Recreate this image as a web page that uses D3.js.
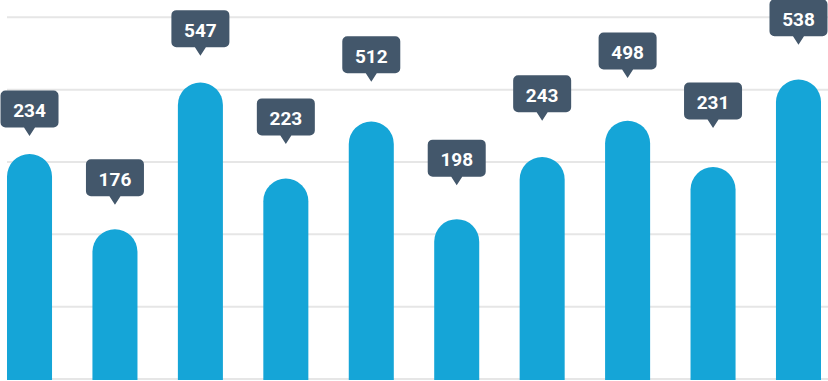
<!DOCTYPE html>
<html>
<head>
<meta charset="utf-8">
<script src="https://cdn.jsdelivr.net/npm/d3@7"></script>
<style>
  html, body { margin: 0; padding: 0; background: #ffffff; }
  svg { display: block; }
</style>
</head>
<body>
<script>
// ---- Data ----
const categories = ["1", "2", "3", "4", "5", "6", "7", "8", "9", "10"];
const labelValues = [234, 176, 547, 223, 512, 198, 243, 498, 231, 538];
const barLevels = [311, 207, 410, 277, 356, 221, 307, 357, 293, 414];
const markerLevels = [336, 241, 447, 325, 411, 268, 357, 416, 347, 462];
const gridTicks = [0, 100, 200, 300, 400, 500];

// ---- Layout ----
const W = 828, H = 381;
const svg = d3.select("body").append("svg").attr("width", W).attr("height", H);

const x = d3.scaleBand().domain(categories).range([7, 821]).paddingInner(0.473).paddingOuter(0);
const y = d3.scaleLinear().domain([0, 500]).range([379, 17.3]);

// gridlines
svg.append("g").selectAll("line").data(gridTicks).join("line")
  .attr("x1", 7).attr("x2", W)
  .attr("y1", d => y(d)).attr("y2", d => y(d))
  .attr("stroke", "#e6e6e6").attr("stroke-width", 2);

const bw = x.bandwidth();
const r = bw / 2;

// bars with rounded tops
svg.append("g").selectAll("path").data(categories).join("path")
  .attr("fill", "#15a5d7")
  .attr("d", (c, i) => {
    const x0 = x(c), top = y(barLevels[i]), y0 = y(0) + 1;
    return `M${x0},${y0} V${top + r} A${r},${r} 0 0 1 ${x0 + bw},${top + r} V${y0} Z`;
  });

// tooltips
const boxW = 58, boxH = 37, ptrH = 8.5, ptrW = 11, cr = 5;
const tips = svg.append("g").selectAll("g").data(categories).join("g")
  .attr("transform", (c, i) => `translate(${x(c) + bw / 2},${y(markerLevels[i])})`);

tips.append("path")
  .attr("fill", "#43576b")
  .attr("d", () => {
    const l = -boxW / 2, rr = boxW / 2, b = -ptrH, t = -ptrH - boxH;
    return `M0,0 L${-ptrW / 2},${b} H${l + cr} A${cr},${cr} 0 0 1 ${l},${b - cr} V${t + cr} A${cr},${cr} 0 0 1 ${l + cr},${t} H${rr - cr} A${cr},${cr} 0 0 1 ${rr},${t + cr} V${b - cr} A${cr},${cr} 0 0 1 ${rr - cr},${b} H${ptrW / 2} Z`;
  });

tips.append("text")
  .attr("x", 0)
  .attr("y", -ptrH - boxH + 26.8)
  .attr("text-anchor", "middle")
  .attr("fill", "#ffffff")
  .attr("font-family", "Roboto, 'DejaVu Sans', sans-serif")
  .attr("font-weight", 700)
  .attr("font-size", "19px")
  .text((c, i) => labelValues[i]);
</script>
</body>
</html>
